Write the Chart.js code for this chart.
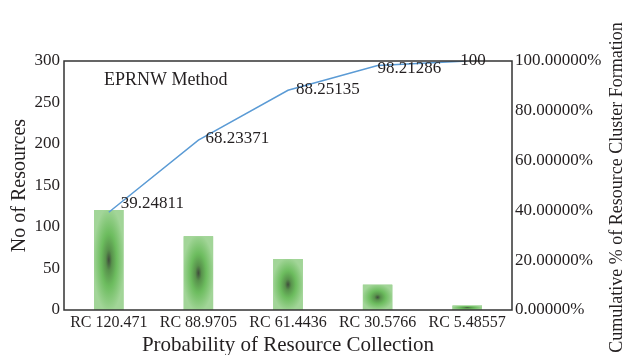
<!DOCTYPE html>
<html>
<head>
<meta charset="utf-8">
<script src="https://cdn.jsdelivr.net/npm/chart.js@4"></script>
<style>
  html, body { margin: 0; padding: 0; background: #fff; }
  #wrap { width: 627px; height: 355px; }
</style>
</head>
<body>
<div id="wrap"><canvas id="paretoChart"></canvas></div>
<script>
const categories = ["RC 120.471", "RC 88.9705", "RC 61.4436", "RC 30.5766", "RC 5.48557"];
const resources = [120.471, 88.9705, 61.4436, 30.5766, 5.48557];
const cumulative = [39.24811, 68.23371, 88.25135, 98.21286, 100];
const cumulativeLabels = ["39.24811", "68.23371", "88.25135", "98.21286", "100"];

const serif = "'Liberation Serif', 'DejaVu Serif', serif";
const textColor = "#231f20";

// label nudges relative to each line point (px)
const labelShift = [[12, -9], [7, -2], [8, -1], [0, 3], [-7, 0]];

// bar shading: dark centre fading out to light green at the edges
function shadeBars(chart, meta) {
  const ctx = chart.ctx;
  meta.data.forEach(bar => {
    const p = bar.getProps(["x", "y", "base", "width"], true);
    const cx = p.x, cy = (p.y + p.base) / 2;
    const hw = p.width / 2, hh = Math.abs(p.base - p.y) / 2;
    ctx.save();
    ctx.beginPath();
    ctx.rect(cx - hw, cy - hh, hw * 2, hh * 2);
    ctx.clip();
    ctx.fillStyle = "#a2d598";
    ctx.fillRect(cx - hw, cy - hh, hw * 2, hh * 2);
    ctx.translate(cx, cy);
    ctx.scale(hw, Math.max(hh, 0.5));
    const g = ctx.createRadialGradient(0, 0, 0, 0, 0, 1.05);
    g.addColorStop(0, "rgb(64,78,60)");
    g.addColorStop(0.2, "rgb(88,146,76)");
    g.addColorStop(0.5, "rgb(108,188,94)");
    g.addColorStop(1, "rgb(162,213,152)");
    ctx.fillStyle = g;
    ctx.fillRect(-1, -1, 2, 2);
    ctx.restore();
  });
}

const barShading = {
  id: "barShading",
  afterDatasetDraw(chart, args) {
    if (args.index === 0) shadeBars(chart, args.meta);
  }
};

const frameAndLabels = {
  id: "frameAndLabels",
  afterDraw(chart) {
    const ctx = chart.ctx;
    const a = chart.chartArea;
    ctx.save();
    ctx.strokeStyle = "#333";
    ctx.lineWidth = 1.5;
    ctx.strokeRect(a.left, a.top, a.right - a.left, a.bottom - a.top);

    ctx.fillStyle = textColor;
    ctx.font = "18px " + serif;
    ctx.textBaseline = "middle";
    ctx.textAlign = "left";
    ctx.fillText("EPRNW Method", a.left + 40, a.top + 19);

    ctx.font = "17px " + serif;
    chart.getDatasetMeta(1).data.forEach((pt, i) => {
      ctx.fillText(cumulativeLabels[i], pt.x + labelShift[i][0], pt.y + labelShift[i][1]);
    });

    // right axis title reads bottom-to-top like the left one
    ctx.translate(617, (a.top + a.bottom) / 2 + 2);
    ctx.rotate(-Math.PI / 2);
    ctx.textAlign = "center";
    ctx.font = "18px " + serif;
    ctx.fillText("Cumulative % of Resource Cluster Formation", 0, 0);
    ctx.restore();
  }
};

new Chart(document.getElementById("paretoChart"), {
  data: {
    labels: categories,
    datasets: [
      {
        type: "bar",
        label: "No of Resources",
        data: resources,
        backgroundColor: "#a2d598",
        yAxisID: "y",
        barPercentage: 0.33,
        categoryPercentage: 1,
        order: 1
      },
      {
        type: "line",
        label: "Cumulative %",
        data: cumulative,
        borderColor: "#5b9bd5",
        borderWidth: 1.5,
        pointRadius: 0,
        tension: 0,
        yAxisID: "y1",
        order: 0
      }
    ]
  },
  options: {
    responsive: true,
    maintainAspectRatio: false,
    animation: false,
    layout: { padding: { top: 61, right: 0, left: 0, bottom: 0 } },
    plugins: {
      legend: { display: false },
      tooltip: { enabled: false }
    },
    scales: {
      x: {
        grid: { display: false, drawTicks: false },
        border: { display: false },
        ticks: { color: textColor, font: { family: serif, size: 16 }, padding: 3, maxRotation: 0 },
        title: {
          display: true,
          text: "Probability of Resource Collection",
          color: textColor,
          font: { family: serif, size: 21 },
          padding: { top: 0, bottom: -3 }
        },
        afterFit: s => { s.height = 45; }
      },
      y: {
        position: "left",
        min: 0,
        max: 300,
        grid: { display: false, drawTicks: false },
        border: { display: false },
        ticks: { stepSize: 50, color: textColor, font: { family: serif, size: 17 }, padding: 4 },
        title: {
          display: true,
          text: "No of Resources",
          color: textColor,
          font: { family: serif, size: 20 },
          padding: { top: 8, bottom: 0 }
        },
        afterFit: s => { s.width = 64; }
      },
      y1: {
        position: "right",
        min: 0,
        max: 100,
        grid: { display: false, drawTicks: false },
        border: { display: false },
        ticks: {
          stepSize: 20,
          color: textColor,
          font: { family: serif, size: 17 },
          padding: 3,
          callback: v => v.toFixed(5) + "%"
        },
        afterFit: s => { s.width = 115; }
      }
    }
  },
  plugins: [barShading, frameAndLabels]
});
</script>
</body>
</html>
